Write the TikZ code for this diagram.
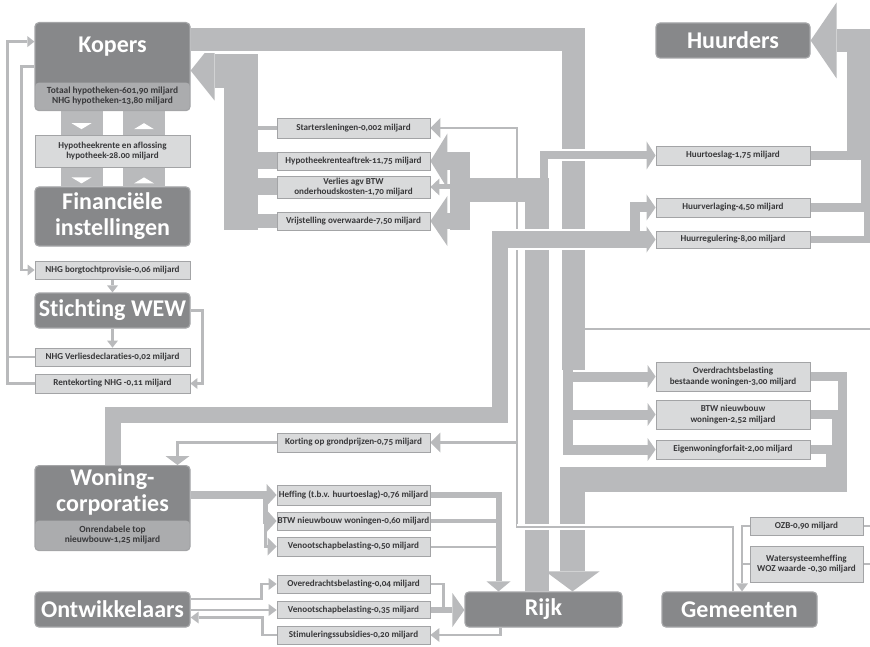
\documentclass[tikz,border=0pt]{standalone}
\usepackage{fontspec}
\setmainfont{Carlito}[Numbers=OldStyle, Ligatures=NoCommon]
\usetikzlibrary{arrows.meta,backgrounds,calc,positioning}

\definecolor{flowgray}{HTML}{B9BABC}
\definecolor{boxdark}{HTML}{87888A}
\definecolor{boxline}{HTML}{A4A5A7}
\definecolor{subgray}{HTML}{ABACAE}
\definecolor{infofill}{HTML}{D9DADB}
\definecolor{infoline}{HTML}{A3A4A6}
\definecolor{infotext}{HTML}{38383A}

\tikzset{
  flow/.style={draw=flowgray, line cap=butt, line join=miter},
  thinflow/.style={flow, line width=2.5pt},
  wgap/.style={preaction={draw=white, line width=#1}},
  arrowhd/.style 2 args={-{Triangle[width=#1pt,length=#2pt,line width=0pt]}},
  bigbox/.style={draw=boxline, line width=1.2pt, fill=boxdark, rounded corners=4pt,
    minimum width=155pt, inner sep=0pt, text=white, align=center,
    font=\bfseries\fontsize{24}{26}\selectfont},
  subpart/.style={path picture={\fill[subgray] ([yshift=#1]path picture bounding box.south west)
    rectangle (path picture bounding box.south east);}},
  titletxt/.style={inner sep=0pt, text=white, align=center,
    font=\bfseries\fontsize{24}{26}\selectfont},
  infobox/.style={draw=infoline, line width=0.8pt, fill=infofill, minimum width=153pt,
    inner xsep=0.5pt, inner ysep=1pt, text=infotext, align=center,
    font=\bfseries\fontsize{9.1}{10.5}\selectfont},
  subtext/.style={text=infotext, align=center, inner sep=0pt,
    font=\bfseries\fontsize{9.4}{10.5}\selectfont},
}

\begin{document}
\begin{tikzpicture}[x=1pt, y=-1pt]
\useasboundingbox (0,0) rectangle (870,647);

% actors
\node[bigbox, subpart=28pt, minimum height=88pt, anchor=north] (kopers) at (112.5,22) {};
\node[titletxt] (kopersT) at (112.5,47) {Kopers};
\node[subtext] (kopersS) at (112.5,96) {Totaal hypotheken-601,90 miljard\\NHG hypotheken-13,80 miljard};
\node[infobox, minimum width=155pt, minimum height=32pt] (hypo) at (112.5,151) {Hypotheekrente en aflossing\\hypotheek-28.00 miljard};
\node[bigbox, minimum height=59pt] (finan) at (112.5,216.5) {Financiële\\instellingen};
\node[infobox, minimum width=155pt, minimum height=18pt] (nhgborg) at (112.5,270) {NHG borgtochtprovisie-0,06 miljard};
\node[bigbox, minimum height=35pt] (wew) at (112.5,310.5) {Stichting WEW};
\node[infobox, minimum width=155pt, minimum height=18pt] (nhgverl) at (112.5,357) {NHG Verliesdeclaraties-0,02 miljard};
\node[infobox, minimum width=155pt, minimum height=19pt] (rentek) at (112.5,383.5) {Rentekorting NHG -0,11 miljard};
\node[bigbox, subpart=30pt, minimum height=85pt, anchor=north] (woco) at (112.5,465) {};
\node[titletxt] (wocoT) at (112.5,492) {Woning-\\corporaties};
\node[subtext] (wocoS) at (112.5,535) {Onrendabele top\\nieuwbouw-1,25 miljard};
\node[bigbox, minimum height=35pt] (ontw) at (112.5,609.5) {Ontwikkelaars};
\node[bigbox, minimum width=157pt, minimum height=35pt] (rijk) at (543.5,609.5) {Rijk};
\node[bigbox, minimum height=35pt] (gem) at (739.5,609.5) {Gemeenten};
\node[bigbox, minimum width=154pt, minimum height=35pt] (huurders) at (733,40.5) {Huurders};

% middle column
\node[infobox, minimum height=20pt] (starters) at (353.5,128) {Startersleningen-0,002 miljard};
\node[infobox, minimum height=18pt] (hra) at (353.5,161) {Hypotheekrenteaftrek-11,75 miljard};
\node[infobox, minimum height=22pt] (btwverl) at (353.5,187) {Verlies agv BTW\\onderhoudskosten-1,70 miljard};
\node[infobox, minimum height=18pt] (vrij) at (353.5,221) {Vrijstelling overwaarde-7,50 miljard};
\node[infobox, minimum height=19pt] (kort) at (353.5,442.5) {Korting op grondprijzen-0,75 miljard};
\node[infobox, minimum height=20pt] (heff) at (353.5,495) {Heffing (t.b.v. huurtoeslag)-0,76 miljard};
\node[infobox, minimum height=18pt] (btwwoco) at (353.5,521) {BTW nieuwbouw woningen-0,60 miljard};
\node[infobox, minimum height=19pt] (venw) at (353.5,546.5) {Venootschapbelasting-0,50 miljard};
\node[infobox, minimum height=18pt] (overe) at (353.5,584) {Overedrachtsbelasting-0,04 miljard};
\node[infobox, minimum height=17pt] (veno) at (353.5,610) {Venootschapbelasting-0,35 miljard};
\node[infobox, minimum height=18pt] (stim) at (353.5,635) {Stimuleringssubsidies-0,20 miljard};

% right column
\node[infobox, minimum width=154pt, minimum height=19pt] (huurtoe) at (733,155.5) {Huurtoeslag-1,75 miljard};
\node[infobox, minimum width=154pt, minimum height=19pt] (huurverl) at (733,207.5) {Huurverlaging-4,50 miljard};
\node[infobox, minimum width=154pt, minimum height=17pt] (huurreg) at (733,239.5) {Huurregulering-8,00 miljard};
\node[infobox, minimum width=154pt, minimum height=29pt] (overdr) at (733,376.5) {Overdrachtsbelasting\\bestaande woningen-3,00 miljard};
\node[infobox, minimum width=154pt, minimum height=29pt] (btwnieuw) at (733,414.5) {BTW nieuwbouw\\woningen-2,52 miljard};
\node[infobox, minimum width=154pt, minimum height=19pt] (eigen) at (733,449.5) {Eigenwoningforfait-2,00 miljard};
\node[infobox, minimum width=113pt, minimum height=18pt] (ozb) at (806.5,526) {OZB-0,90 miljard};
\node[infobox, minimum width=113pt, minimum height=36pt] (water) at (806.5,564) {Watersysteemheffing\\WOZ waarde -0,30 miljard};

\begin{scope}[on background layer]
% gemeenten
\coordinate (gline) at (517,527);
\draw[thinflow, arrowhd={20}{10}] ([xshift=-6.5pt]gem.north) |- (gline) |- (starters.east);
\draw[thinflow, arrowhd={20}{10}] (gline |- kort.east) -- (kort.east);
\draw[thinflow, arrowhd={24}{9}] (kort.west) -| ([xshift=65pt]woco.north);

% rijk -> kopers
\coordinate (ktrunk) at (241,230);
\draw[flow, line width=34pt, arrowhd={60}{24}] (ktrunk) |- ([yshift=-4pt]kopers.east);
\draw[flow, line width=4pt] (starters.west) -- (ktrunk |- starters.west);
\draw[flow, line width=17pt] (hra.west) -- (ktrunk |- hra.west);
\draw[flow, line width=17pt] (btwverl.west) -- (ktrunk |- btwverl.west);
\draw[flow, line width=14pt] (vrij.west) -- (ktrunk |- vrij.west);

% kopers -> belastingen -> rijk
\coordinate (kdown) at (573.5,370);
\draw[flow, line width=23pt, wgap=27pt] ([yshift=27.5pt]kopers.east) -| (kdown);
\draw[flow, line width=10pt, arrowhd={23}{8}] ([xshift=-6pt]kdown) |- (overdr.west);
\draw[flow, line width=10pt, arrowhd={23}{8}] ([xshift=-6pt]kdown) |- (btwnieuw.west);
\draw[flow, line width=10pt, arrowhd={23}{8}] ([xshift=-6pt]kdown) |- (eigen.west);
\coordinate (rback) at (836.5,479.5);
\draw[flow, line width=9pt] (overdr.east) -| ([xshift=6pt]rback);
\draw[flow, line width=9pt] (btwnieuw.east) -| (rback);
\draw[flow, line width=9pt] (eigen.east) -| ([xshift=-6pt]rback);
\draw[flow, line width=25pt, arrowhd={54}{20}] ([xshift=10.5pt]rback) -| ([xshift=29pt]rijk.north);

% rijk -> kopers / huurders
\coordinate (rsplit) at (460,190.5);
\draw[flow, line width=8pt, wgap=12pt, arrowhd={28}{9}] ([xshift=0.5pt]rijk.north |- rsplit) |- (huurtoe.west);
\draw[flow, line width=24pt] ([xshift=-7pt]rijk.north) |- (rsplit);
\draw[flow, line width=20pt] ([yshift=38pt]rsplit) -- ([yshift=-40pt]rsplit);
\draw[flow, line width=18pt, arrowhd={55}{17}] (rsplit |- hra.east) -- (hra.east);
\draw[flow, line width=5pt, arrowhd={17}{9}] (rsplit |- btwverl.east) -- (btwverl.east);
\draw[flow, line width=16pt, arrowhd={50}{17}] (rsplit |- vrij.east) -- (vrij.east);

% woningcorporaties -> huurders
\coordinate (wbend) at (500,415);
\draw[flow, line width=16pt, wgap=20pt, arrowhd={26}{9}] (woco.north) |- (wbend) |- (huurreg.west);
\draw[flow, line width=10pt, arrowhd={26}{9}] ([xshift=-21pt]huurreg.west) |- (huurverl.west);

% huurders
\draw[flow, line width=9pt] (huurtoe.east) -- ++(55,0);
\draw[flow, line width=9pt] (huurverl.east) -| ([xshift=55pt, yshift=5pt]huurtoe.east);
\draw[flow, line width=6pt] (huurreg.east) -| ([xshift=57pt]huurverl.east);
\draw[flow, line width=23pt, arrowhd={76}{26}] ([xshift=48.5pt, yshift=-5pt]huurtoe.east) |- (huurders.east);

% woningcorporaties -> rijk
\coordinate (wsplit) at (265,495);
\draw[flow, line width=8pt, arrowhd={22}{10}] (woco.east |- heff.west) -- (heff.west);
\draw[flow, line width=5pt, arrowhd={22}{10}] (wsplit) |- (btwwoco.west);
\draw[flow, line width=3pt, arrowhd={18}{9}] (wsplit) |- (venw.west);
\draw[flow, line width=6pt, arrowhd={24}{10}] (heff.east) -| ([xshift=-45pt]rijk.north);
\draw[flow, line width=4pt] (btwwoco.east) -- ++(68,0);
\draw[flow, line width=2pt] (venw.east) -- ++(68,0);

% ontwikkelaars
\draw[thinflow, arrowhd={12}{8}] ([yshift=10.5pt]ontw.east) -| ([xshift=-15pt]overe.west) -- (overe.west);
\draw[thinflow, arrowhd={12}{8}] (ontw.east |- veno.west) -- (veno.west);
\draw[thinflow, arrowhd={12}{8}] (stim.west) -| ([xshift=72pt, yshift=-8pt]ontw.east) -- ([yshift=-8pt]ontw.east);
\draw[flow, line width=6pt, arrowhd={34}{12}] (veno.east) -- (rijk.west |- veno.east);
\draw[thinflow] (overe.east) -| ([xshift=13pt]veno.east);
\draw[thinflow, arrowhd={14}{9}] ([xshift=-43pt]rijk.south) |- (stim.east);

% kopers <-> financiele instellingen
\draw[flow, line width=42pt] ([xshift=-31pt]kopers.south) -- ([xshift=-31pt]hypo.north);
\draw[flow, line width=42pt] ([xshift=-31pt]hypo.south) -- ([xshift=-31pt]finan.north);
\draw[flow, line width=42pt] ([xshift=31.5pt]kopers.south) -- ([xshift=31.5pt]hypo.north);
\draw[flow, line width=42pt] ([xshift=31.5pt]hypo.south) -- ([xshift=31.5pt]finan.north);
\fill[white] ([xshift=-41pt, yshift=-12pt]kopers.south) -- ++(20,0) -- ++(-10,6) -- cycle;
\fill[white] ([xshift=-41pt, yshift=-10pt]hypo.south) -- ++(20,0) -- ++(-10,6) -- cycle;
\fill[white] ([xshift=21.5pt, yshift=-18pt]kopers.south) -- ++(20,0) -- ++(-10,-6) -- cycle;
\fill[white] ([xshift=21.5pt, yshift=-16pt]hypo.south) -- ++(20,0) -- ++(-10,-6) -- cycle;

% NHG
\draw[thinflow, arrowhd={11}{7}] (kopers.west) -| ([xshift=-13pt]nhgborg.west) -- (nhgborg.west);
\draw[thinflow, arrowhd={11}{7}] (nhgborg.south) -- (wew.north);
\draw[thinflow, arrowhd={11}{7}] (wew.south) -- (nhgverl.north);
\draw[thinflow, arrowhd={11}{7}] (wew.east) -- ++(12,0) |- (rentek.east);
\draw[thinflow] (nhgverl.west) -- ++(-27,0);
\draw[thinflow, arrowhd={11}{7}] (rentek.west) -| ([xshift=-27pt, yshift=25pt]kopers.west) -- ([yshift=25pt]kopers.west);

% gemeentelijke heffingen
\draw[thinflow, arrowhd={12}{8}] (ozb.west) -| ([xshift=2.5pt]gem.north);
\draw[thinflow] (water.west) -- ++(-8,0);
\draw[thinflow] (ozb.east) -- ++(8,0);
\draw[thinflow] (water.east) -- ++(8,0);
\draw[thinflow] (585,329) -- ++(285,0);
\draw[thinflow, wgap=6pt] ([xshift=-6.5pt]gem.north) |- (gline);
\end{scope}
\end{tikzpicture}
\end{document}
